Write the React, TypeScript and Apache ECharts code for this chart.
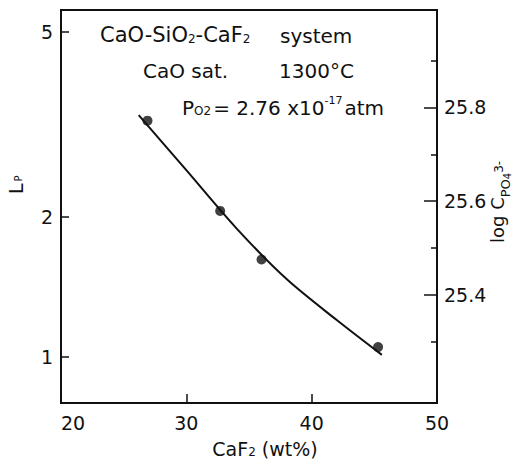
import React, { useEffect, useRef } from 'react';
import * as echarts from 'echarts';

// ---- data ----
const xTicks = [20, 30, 40, 50];
const lpTicks = [1, 2, 5];
const logCTicks = [25.4, 25.6, 25.8];
const logCMinorTicks = [25.3, 25.5, 25.7, 25.9];

const pointCaF2 = [26.9, 32.7, 36.0, 45.3];
const pointLp = [3.22, 2.06, 1.62, 1.05];

const curveCaF2 = [26.2, 30, 34, 38, 42, 45.6];
const curveLp = [3.31, 2.52, 1.89, 1.47, 1.2, 1.01];

const lpMin = 0.796;
const lpMax = 5.57;
const logCMin = 25.169;
const logCMax = 26.008;

// ---- styling ----
const FONT = '"DejaVu Sans", sans-serif';
const INK = '#111';
const MID = 0.32;

let ctx: CanvasRenderingContext2D | null = null;
function textWidth(t: string, fs: number): number {
  if (!ctx) ctx = document.createElement('canvas').getContext('2d');
  if (!ctx) return t.length * fs * 0.6;
  ctx.font = `${fs}px ${FONT}`;
  return ctx.measureText(t).width;
}

type Piece = { t: string; fs: number; dy?: number; gap?: number };

function runH(x0: number, base: number, pieces: Piece[]) {
  const out: any[] = [];
  let x = x0;
  for (const p of pieces) {
    x += p.gap || 0;
    out.push({
      type: 'text',
      x,
      y: base + (p.dy || 0) - MID * p.fs,
      silent: true,
      style: { text: p.t, fontSize: p.fs, fontFamily: FONT, fill: INK, align: 'left', verticalAlign: 'middle' },
    });
    x += textWidth(p.t, p.fs);
  }
  return out;
}

function runWidth(pieces: Piece[]) {
  return pieces.reduce((s, p) => s + (p.gap || 0) + textWidth(p.t, p.fs), 0);
}

function runV(baseX: number, y0: number, pieces: Piece[]) {
  const out: any[] = [];
  let y = y0;
  for (const p of pieces) {
    y -= p.gap || 0;
    out.push({
      type: 'text',
      x: baseX + (p.dy || 0) - MID * p.fs,
      y,
      rotation: Math.PI / 2,
      silent: true,
      style: { text: p.t, fontSize: p.fs, fontFamily: FONT, fill: INK, align: 'left', verticalAlign: 'middle' },
    });
    y -= textWidth(p.t, p.fs);
  }
  return out;
}

export default function App() {
  const ref = useRef<HTMLDivElement>(null);
  useEffect(() => {
    if (!ref.current) return;
    const chart = echarts.init(ref.current, null, { renderer: 'svg' });

    const xName: Piece[] = [
      { t: 'CaF', fs: 19 },
      { t: '2', fs: 12, dy: 1 },
      { t: ' (wt%)', fs: 19 },
    ];
    const xNameW = runWidth(xName);

    const graphic: any[] = [
      ...runH(100, 42, [
        { t: 'CaO-SiO', fs: 21 },
        { t: '2', fs: 12, dy: 1 },
        { t: '-CaF', fs: 21 },
        { t: '2', fs: 12, dy: 1 },
      ]),
      ...runH(280, 42, [{ t: 'system', fs: 20 }]),
      ...runH(143, 77, [{ t: 'CaO sat.', fs: 20 }]),
      ...runH(279, 77, [{ t: '1300°C', fs: 20 }]),
      ...runH(182, 114, [
        { t: 'P', fs: 20 },
        { t: 'O2', fs: 12, dy: 1 },
        { t: '= 2.76 x10', fs: 20, gap: 2 },
        { t: '-17', fs: 11, dy: -10 },
        { t: 'atm', fs: 20, gap: 2 },
      ]),
      ...runH(265 - xNameW / 2, 455, xName),
      ...runV(22, 194, [
        { t: 'L', fs: 19 },
        { t: 'P', fs: 10, gap: 2 },
      ]),
      ...runV(503, 243, [
        { t: 'log C', fs: 18 },
        { t: 'PO', fs: 13, dy: 7 },
        { t: '4', fs: 10, dy: 8 },
        { t: '3-', fs: 12, dy: 0 },
      ]),
    ];

    const axisLine = { show: true, lineStyle: { color: INK, width: 2 } };
    const labelBase = { color: INK, fontSize: 19, fontFamily: FONT };

    chart.setOption({
      animation: false,
      backgroundColor: '#fff',
      grid: {
        left: 61,
        right: 76,
        top: 10,
        bottom: 60,
        show: true,
        borderColor: INK,
        borderWidth: 2,
        backgroundColor: 'transparent',
        outerBoundsMode: 'none',
        containLabel: false,
      },
      xAxis: {
        type: 'value',
        min: xTicks[0],
        max: xTicks[xTicks.length - 1],
        interval: 10,
        axisLine,
        axisTick: { show: true, inside: true, length: 9, lineStyle: { color: INK, width: 1.5 } },
        axisLabel: { ...labelBase, margin: 10, alignMinLabel: 'left' },
        splitLine: { show: false },
      },
      yAxis: [
        {
          type: 'log',
          logBase: 10,
          min: lpMin,
          max: lpMax,
          position: 'left',
          axisLine,
          axisTick: { show: true, inside: true, length: 8, customValues: lpTicks, lineStyle: { color: INK, width: 1.5 } },
          axisLabel: { ...labelBase, margin: 8, customValues: lpTicks, formatter: (v: number) => String(Math.round(v)) },
          splitLine: { show: false },
          minorTick: { show: false },
        },
        {
          type: 'value',
          min: logCMin,
          max: logCMax,
          position: 'right',
          axisLine,
          axisTick: { show: true, inside: true, length: 13, customValues: logCTicks, lineStyle: { color: INK, width: 1.5 } },
          axisLabel: { ...labelBase, margin: 7, customValues: logCTicks, formatter: (v: number) => v.toFixed(1) },
          splitLine: { show: false },
        },
        {
          type: 'value',
          min: logCMin,
          max: logCMax,
          position: 'right',
          axisLine: { show: false },
          axisTick: { show: true, inside: true, length: 6, customValues: logCMinorTicks, lineStyle: { color: INK, width: 1.5 } },
          axisLabel: { show: false },
          splitLine: { show: false },
        },
      ],
      series: [
        {
          type: 'line',
          yAxisIndex: 0,
          data: curveCaF2.map((x, i) => [x, curveLp[i]]),
          smooth: 0.3,
          symbol: 'none',
          showSymbol: false,
          lineStyle: { color: INK, width: 2 },
          z: 2,
        },
        {
          type: 'scatter',
          yAxisIndex: 0,
          data: pointCaF2.map((x, i) => [x, pointLp[i]]),
          symbolSize: 10,
          itemStyle: { color: INK },
          z: 3,
        },
      ],
      graphic,
    });
    return () => chart.dispose();
  }, []);

  return (
    <div
      ref={ref}
      style={{ position: 'fixed', left: 0, top: 0, width: 513, height: 463 }}
    />
  );
}
